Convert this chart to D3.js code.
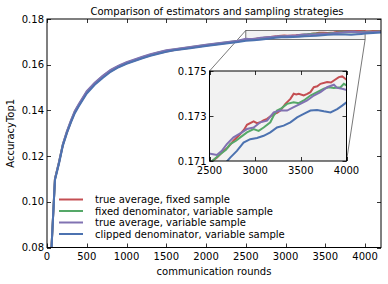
<!DOCTYPE html>
<html><head><meta charset="utf-8">
<script src="https://cdn.jsdelivr.net/npm/d3@7"></script>
<style>
html,body{margin:0;padding:0;background:#fff;}
svg{display:block;font-family:"DejaVu Sans",sans-serif;}
</style></head>
<body><svg id="c" width="388" height="284"></svg>
<script>
const title = "Comparison of estimators and sampling strategies";
const xLabel = "communication rounds";
const yLabel = "AccuracyTop1";
const seriesNames = ["true average, fixed sample","fixed denominator, variable sample","true average, variable sample","clipped denominator, variable sample"];
const seriesColors = ["#C44E52","#55A868","#8172B2","#4C72B0"];
const xTicks = [0,500,1000,1500,2000,2500,3000,3500,4000];
const yTicks = [0.08,0.10,0.12,0.14,0.16,0.18];
const insetXTicks = [2500,3000,3500,4000];
const insetYTicks = [0.171,0.173,0.175];

const rounds = [50,100,150,200,250,300,350,400,500,600,700,800,900,1000,1100,1200,1300,1400,1500,1600,1800,2000,2200,2400];
const earlyRed    = [0.0755,0.1100,0.1170,0.1250,0.1303,0.1350,0.1392,0.1423,0.1478,0.1516,0.1546,0.1572,0.1591,0.1606,0.1618,0.1630,0.1641,0.1650,0.1658,0.1664,0.1674,0.1684,0.1693,0.1702];
const earlyGreen  = [0.0755,0.1100,0.1172,0.1252,0.1306,0.1352,0.1395,0.1425,0.1481,0.1519,0.1549,0.1575,0.1594,0.1609,0.1621,0.1633,0.1644,0.1653,0.1661,0.1667,0.1676,0.1686,0.1695,0.1704];
const earlyPurple = [0.0755,0.1100,0.1173,0.1253,0.1308,0.1355,0.1398,0.1428,0.1484,0.1521,0.1551,0.1577,0.1596,0.1611,0.1623,0.1635,0.1646,0.1655,0.1663,0.1668,0.1677,0.1687,0.1696,0.1705];
const earlyBlue   = [0.0750,0.1095,0.1165,0.1246,0.1300,0.1346,0.1388,0.1418,0.1474,0.1512,0.1542,0.1569,0.1589,0.1604,0.1616,0.1628,0.1639,0.1648,0.1657,0.1663,0.1672,0.1682,0.1691,0.1699];

const lateRedX    = [2500,2580,2654,2700,2763,2837,2880,2910,2983,3020,3056,3090,3130,3203,3240,3276,3331,3386,3422,3450,3477,3532,3570,3605,3642,3680,3715,3788,3830,3862,3916,3953,3980,4000,4050,4100,4200];
const lateRedY    = [0.17090,0.17115,0.17145,0.17160,0.17190,0.17220,0.17240,0.17261,0.17276,0.17268,0.17272,0.17280,0.17287,0.17309,0.17314,0.17324,0.17354,0.17376,0.17399,0.17396,0.17399,0.17391,0.17398,0.17406,0.17428,0.17432,0.17443,0.17451,0.17449,0.17458,0.17473,0.17476,0.17468,0.17461,0.17465,0.17470,0.17475];
const lateGreenX  = [2500,2617,2680,2727,2790,2837,2910,2983,3038,3093,3166,3200,3239,3276,3349,3422,3477,3532,3605,3678,3752,3807,3862,3935,3971,4000,4050,4100,4200];
const lateGreenY  = [0.17090,0.17130,0.17150,0.17175,0.17190,0.17205,0.17227,0.17242,0.17234,0.17249,0.17272,0.17300,0.17324,0.17331,0.17354,0.17361,0.17357,0.17369,0.17391,0.17406,0.17421,0.17428,0.17425,0.17428,0.17443,0.17436,0.17440,0.17444,0.17448];
const latePurpleX = [2500,2540,2580,2635,2690,2763,2855,2910,2983,3056,3130,3203,3276,3349,3422,3495,3569,3642,3715,3788,3862,3898,3953,4000,4050,4100,4200];
const latePurpleY = [0.17133,0.17130,0.17127,0.17145,0.17175,0.17205,0.17227,0.17242,0.17249,0.17272,0.17279,0.17316,0.17324,0.17324,0.17339,0.17354,0.17369,0.17391,0.17406,0.17428,0.17439,0.17425,0.17421,0.17416,0.17425,0.17435,0.17445];
const lateBlueX   = [2500,2600,2672,2727,2800,2873,2946,3020,3093,3166,3239,3312,3386,3459,3532,3605,3678,3752,3825,3898,3953,4000,4050,4100,4200];
const lateBlueY   = [0.17050,0.17075,0.17090,0.17115,0.17145,0.17182,0.17197,0.17202,0.17212,0.17227,0.17249,0.17257,0.17272,0.17294,0.17309,0.17324,0.17327,0.17321,0.17316,0.17331,0.17346,0.17361,0.17375,0.17390,0.17410];

function build(early, lx, ly){
  const pts = rounds.map((r,i)=>[r, early[i]]);
  lx.forEach((x,i)=>pts.push([x, ly[i]]));
  return pts;
}
const series = [
  build(earlyRed, lateRedX, lateRedY),
  build(earlyGreen, lateGreenX, lateGreenY),
  build(earlyPurple, latePurpleX, latePurpleY),
  build(earlyBlue, lateBlueX, lateBlueY)
];

const svg = d3.select("#c");
const M = {l:47, r:381, t:19, b:247.5};
const x = d3.scaleLinear().domain([0,4200]).range([M.l, M.r]);
const y = d3.scaleLinear().domain([0.08,0.18]).range([M.b, M.t]);
const fs = 10;

svg.append("defs").append("clipPath").attr("id","mainclip")
  .append("rect").attr("x",M.l).attr("y",M.t).attr("width",M.r-M.l).attr("height",M.b-M.t);

// zoom box in main axes
const bx0 = x(2500), bx1 = x(4000), by0 = y(0.175), by1 = y(0.171);
svg.append("rect").attr("x",bx0).attr("y",by0).attr("width",bx1-bx0).attr("height",by1-by0)
  .attr("fill","#f2f2f2").attr("stroke","#555").attr("stroke-width",0.8);

// inset geometry
const I = {l:209.5, r:346.5, t:71, b:161};
const xi = d3.scaleLinear().domain([2500,4000]).range([I.l, I.r]);
const yi = d3.scaleLinear().domain([0.171,0.175]).range([I.b, I.t]);

// connectors
svg.append("line").attr("x1",bx0).attr("y1",by0).attr("x2",I.l).attr("y2",I.t).attr("stroke","#555").attr("stroke-width",0.8);
svg.append("line").attr("x1",bx1).attr("y1",by1).attr("x2",I.r).attr("y2",I.b).attr("stroke","#555").attr("stroke-width",0.8);

const lineMain = d3.line().x(d=>x(d[0])).y(d=>y(d[1]));
const gl = svg.append("g").attr("clip-path","url(#mainclip)");
series.forEach((s,i)=>{
  gl.append("path").attr("d",lineMain(s)).attr("fill","none").attr("stroke",seriesColors[i]).attr("stroke-width",2);
});

// main axes frame
svg.append("rect").attr("x",M.l).attr("y",M.t).attr("width",M.r-M.l).attr("height",M.b-M.t)
  .attr("fill","none").attr("stroke","#000").attr("stroke-width",1);

// ticks
const tk = svg.append("g").attr("stroke","#000").attr("stroke-width",0.8);
xTicks.forEach(t=>{
  const px = Math.round(x(t))+0.5;
  tk.append("line").attr("x1",px).attr("x2",px).attr("y1",M.b).attr("y2",M.b-4);
  tk.append("line").attr("x1",px).attr("x2",px).attr("y1",M.t).attr("y2",M.t+4);
  svg.append("text").attr("x",x(t)).attr("y",M.b+12.5).attr("text-anchor","middle").attr("font-size",fs).text(t);
});
yTicks.forEach(t=>{
  const py = Math.round(y(t))+0.5;
  tk.append("line").attr("x1",M.l).attr("x2",M.l+4).attr("y1",py).attr("y2",py);
  tk.append("line").attr("x1",M.r).attr("x2",M.r-4).attr("y1",py).attr("y2",py);
  svg.append("text").attr("x",M.l-3).attr("y",y(t)+3.6).attr("text-anchor","end").attr("font-size",fs).text(t.toFixed(2));
});

svg.append("text").attr("x",(M.l+M.r)/2+3).attr("y",15).attr("text-anchor","middle").attr("font-size",fs).text(title);
svg.append("text").attr("x",(M.l+M.r)/2).attr("y",275).attr("text-anchor","middle").attr("font-size",fs).text(xLabel);
svg.append("text").attr("transform",`translate(14,${(M.t+M.b)/2}) rotate(-90)`).attr("text-anchor","middle").attr("font-size",fs).text(yLabel);

// legend
seriesNames.forEach((n,i)=>{
  const ly = 199.5 + i*11.5;
  svg.append("line").attr("x1",59).attr("x2",83).attr("y1",ly).attr("y2",ly).attr("stroke",seriesColors[i]).attr("stroke-width",2);
  svg.append("text").attr("x",95).attr("y",ly+3.6).attr("font-size",fs).text(n);
});

// inset
svg.append("defs").append("clipPath").attr("id","insclip")
  .append("rect").attr("x",I.l).attr("y",I.t).attr("width",I.r-I.l).attr("height",I.b-I.t);
svg.append("rect").attr("x",I.l).attr("y",I.t).attr("width",I.r-I.l).attr("height",I.b-I.t).attr("fill","#f2f2f2");
const lineIn = d3.line().x(d=>xi(d[0])).y(d=>yi(d[1]));
const gi = svg.append("g").attr("clip-path","url(#insclip)");
series.forEach((s,i)=>{
  gi.append("path").attr("d",lineIn(s.filter(d=>d[0]>=2400))).attr("fill","none").attr("stroke",seriesColors[i]).attr("stroke-width",2);
});
svg.append("rect").attr("x",I.l).attr("y",I.t).attr("width",I.r-I.l).attr("height",I.b-I.t).attr("fill","none").attr("stroke","#000").attr("stroke-width",1);
const ti = svg.append("g").attr("stroke","#000").attr("stroke-width",0.8);
insetXTicks.forEach(t=>{
  const px = Math.round(xi(t))+0.5;
  ti.append("line").attr("x1",px).attr("x2",px).attr("y1",I.b).attr("y2",I.b-4);
  ti.append("line").attr("x1",px).attr("x2",px).attr("y1",I.t).attr("y2",I.t+4);
  svg.append("text").attr("x",xi(t)).attr("y",I.b+13).attr("text-anchor","middle").attr("font-size",fs).text(t);
});
insetYTicks.forEach(t=>{
  const py = Math.round(yi(t))+0.5;
  ti.append("line").attr("x1",I.l).attr("x2",I.l+4).attr("y1",py).attr("y2",py);
  ti.append("line").attr("x1",I.r).attr("x2",I.r-4).attr("y1",py).attr("y2",py);
  svg.append("text").attr("x",I.l-3).attr("y",yi(t)+3.6).attr("text-anchor","end").attr("font-size",fs).text(t.toFixed(3));
});
</script></body></html>
